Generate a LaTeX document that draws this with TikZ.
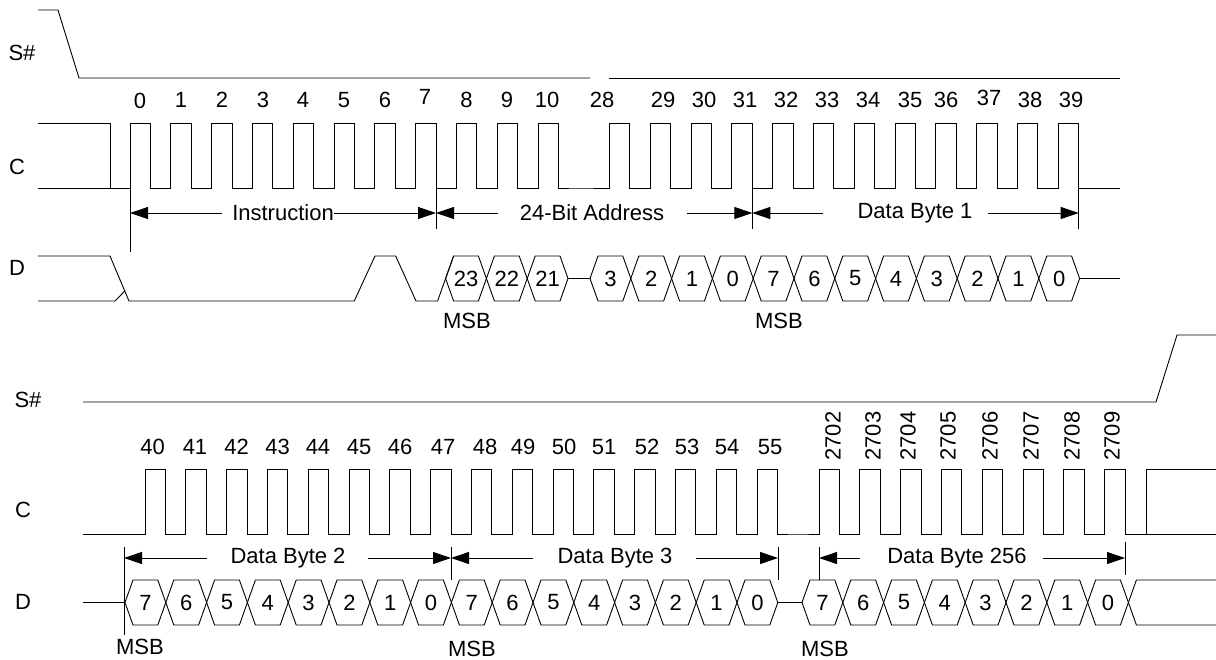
\documentclass[tikz,border=0pt]{standalone}
\usepackage{fontspec}
\setmainfont{Liberation Sans}
\usetikzlibrary{arrows.meta}
\begin{document}
\begin{tikzpicture}[x=1pt,y=-1pt,line width=0.9pt,line join=miter,
  lbl/.style={font=\fontsize{22}{24}\selectfont,inner sep=0pt},
  dim/.style={-{Triangle[length=18pt,width=12pt]}},
  marker/.style={line width=0.9pt}]
\useasboundingbox (0,0) rectangle (1216,659);

% ---------------- signal names ----------------
\node[lbl] (s1) at (22,53) {S\#};
\node[lbl] (c1) at (17,167) {C};
\node[lbl] (d1) at (17,268) {D};
\node[lbl] (s2) at (28,400) {S\#};
\node[lbl] (c2) at (23,510) {C};
\node[lbl] (d2) at (23,602) {D};

% ---------------- top S# ----------------
\draw (38,10) -- (58,10) -- (79,78) -- (590,78);
\draw (609,78) -- (1120,78);

% ---------------- top C ----------------
\draw (38,123) -- (110,123) -- (110,188);
\draw (38,188) -- (130,188)
  \foreach \k in {0,...,10} { -- ++(0,-65) -- ++(20.4,0) -- ++(0,65) -- ++(20.4,0) }
  -- (609.5,188)
  \foreach \k in {0,...,10} { -- ++(0,-65) -- ++(20.4,0) -- ++(0,65) -- ++(20.4,0) }
  -- ++(0,-65) -- ++(20.4,0) -- ++(0,65) -- (1120,188);

\foreach \x/\y/\t [count=\i] in {140/101/0,181/100/1,222/100/2,263/100/3,303/100/4,344/100/5,385/100/6,425/97/7,
  466.5/100/8,507/100/9,547/100/10,602/100/28,663/100/29,704/100/30,745/100/31,786/100/32,
  827/100/33,868/100/34,910/100/35,946/100/36,989/98/37,1030/100/38,1071/100/39}
  \node[lbl] (ct\i) at (\x,\y) {\t};

% ---------------- top markers & dimensions ----------------
\coordinate (m1) at (130,213);
\coordinate (m2) at (436,213);
\coordinate (m3) at (752.3,213);
\coordinate (m4) at (1078.7,213);
\draw[marker] (130,188) -- (130,252);
\draw[marker] (436,188) -- (436,229);
\draw[marker] (752.3,188) -- (752.3,229);
\draw[marker] (1078.7,188) -- (1078.7,229);

\node[lbl] (ins) at (283,213) {Instruction};
\draw[dim] ([xshift=-10pt]ins.west) -- (m1);
\draw[dim] (ins.east) -- (m2);
\node[lbl] (adr) at (592,213) {24-Bit Address};
\draw[dim] ([xshift=-21pt]adr.west) -- (m2);
\draw[dim] ([xshift=22pt]adr.east) -- (m3);
\node[lbl] (db1) at (915,213) {Data Byte 1};
\draw[dim] ([xshift=-34pt]db1.west) -- (m3);
\draw[dim] ([xshift=15pt]db1.east) -- (m4);

% ---------------- top D ----------------
\draw (38,256) -- (110,256) -- (129,301) -- (354.3,301) -- (375,256) -- (395.7,256)
  -- (416,301) -- (437.6,301) -- (453.6,256);
\draw (38,301) -- (115,301) -- (124.8,291);

\foreach \v [count=\i from 0] in {23,22,21} {
  \pgfmathsetmacro\xa{445.6+40.8*\i}
  \draw (\xa,278.5) -- ++(8,-22.5) -- ++(24.8,0) -- ++(8,22.5) -- ++(-8,22.5) -- ++(-24.8,0) -- cycle;
  \node[lbl] (ta\i) at (\xa+20.4,278.5) {\v};
}
\draw (568,278.5) -- (590,278.5);
\foreach \v [count=\i from 0] in {3,2,1,0,7,6,5,4,3,2,1,0} {
  \pgfmathsetmacro\xa{590+40.8*\i}
  \draw (\xa,278.5) -- ++(8,-22.5) -- ++(24.8,0) -- ++(8,22.5) -- ++(-8,22.5) -- ++(-24.8,0) -- cycle;
  \node[lbl] (tb\i) at (\xa+20.4,278.5) {\v};
}
\draw (1079.6,278.5) -- (1120,278.5);

\node[lbl] (msb1) at (467,321) {MSB};
\node[lbl] (msb2) at (779,321) {MSB};

% ---------------- bottom S# ----------------
\draw (83,402) -- (1156,402) -- (1177,335) -- (1216,335);

% ---------------- bottom C ----------------
\draw (83,534) -- (145,534)
  \foreach \k in {0,...,15} { -- ++(0,-65) -- ++(20.4,0) -- ++(0,65) -- ++(20.4,0) }
  -- (819,534)
  \foreach \k in {0,...,6} { -- ++(0,-65) -- ++(20.4,0) -- ++(0,65) -- ++(20.4,0) }
  -- ++(0,-65) -- ++(20.4,0) -- ++(0,65) -- (1216,534);
\draw (1146,534) -- (1146,469) -- (1216,469);

\foreach \x/\t [count=\i] in {152.7/40,195/41,236.7/42,277.7/43,318/44,359/45,400/46,443/47,
  485/48,523/49,564/50,604/51,647/52,687/53,727/54,770/55}
  \node[lbl] (cb\i) at (\x,447) {\t};
\foreach \x/\t [count=\i] in {833/2702,873/2703,908/2704,948/2705,990/2706,1031/2707,1072/2708,1112/2709}
  \node[lbl,rotate=90] (cr\i) at (\x,436) {\t};

% ---------------- bottom markers & dimensions ----------------
\coordinate (n1) at (124,558);
\coordinate (n2) at (451,558);
\coordinate (n3) at (778,558);
\coordinate (n4) at (819,558);
\coordinate (n5) at (1125,558);
\draw[marker] (124,547) -- (124,635);
\draw[marker] (451,547) -- (451,580);
\draw[marker] (778,547) -- (778,580);
\draw[marker] (819,547) -- (819,580);
\draw[marker] (1125,542) -- (1125,575);

\node[lbl] (db2) at (288,558) {Data Byte 2};
\draw[dim] ([xshift=-23pt]db2.west) -- (n1);
\draw[dim] ([xshift=22pt]db2.east) -- (n2);
\node[lbl] (db3) at (615,558) {Data Byte 3};
\draw[dim] ([xshift=-24pt]db3.west) -- (n2);
\draw[dim] ([xshift=23pt]db3.east) -- (n3);
\node[lbl] (db256) at (957,558) {Data Byte 256};
\draw[dim] ([xshift=-27pt]db256.west) -- (n4);
\draw[dim] ([xshift=16pt]db256.east) -- (n5);

% ---------------- bottom D ----------------
\draw (83,602.5) -- (125,602.5);
\foreach \v [count=\i from 0] in {7,6,5,4,3,2,1,0,7,6,5,4,3,2,1,0} {
  \pgfmathsetmacro\xa{125+40.8*\i}
  \draw (\xa,602.5) -- ++(8,-22.5) -- ++(24.8,0) -- ++(8,22.5) -- ++(-8,22.5) -- ++(-24.8,0) -- cycle;
  \node[lbl] (ba\i) at (\xa+20.4,602.5) {\v};
}
\draw (777.8,602.5) -- (802,602.5);
\foreach \v [count=\i from 0] in {7,6,5,4,3,2,1,0} {
  \pgfmathsetmacro\xa{802+40.8*\i}
  \draw (\xa,602.5) -- ++(8,-22.5) -- ++(24.8,0) -- ++(8,22.5) -- ++(-8,22.5) -- ++(-24.8,0) -- cycle;
  \node[lbl] (bb\i) at (\xa+20.4,602.5) {\v};
}
\draw (1216,580) -- (1136.4,580) -- (1128.4,602.5) -- (1136.4,625) -- (1216,625);

\node[lbl] (msb3) at (140,647) {MSB};
\node[lbl] (msb4) at (472,649) {MSB};
\node[lbl] (msb5) at (825,649) {MSB};
\end{tikzpicture}
\end{document}
